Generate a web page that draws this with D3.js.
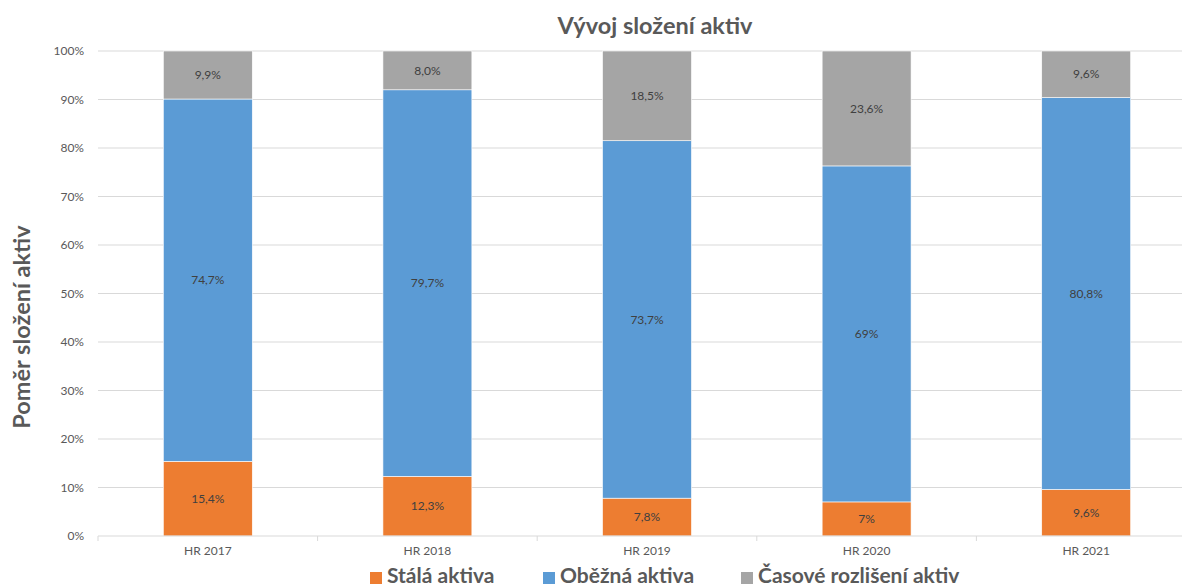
<!DOCTYPE html>
<html>
<head>
<meta charset="utf-8">
<script src="https://cdn.jsdelivr.net/npm/d3@7"></script>
<style>
  html, body { margin: 0; padding: 0; background: #fff; }
  svg { display: block; font-family: Lato, "Noto Sans", sans-serif; }
</style>
</head>
<body>
<svg id="chart" width="1182" height="588"></svg>
<script>
// Asset structure by year (percent of total assets)
const categories = ["HR 2017", "HR 2018", "HR 2019", "HR 2020", "HR 2021"];
const stalaAktiva = [15.4, 12.3, 7.8, 7, 9.6];
const obeznaAktiva = [74.7, 79.7, 73.7, 69, 80.8];
const casoveRozliseni = [9.9, 8.0, 18.5, 23.6, 9.6];
// decimals shown in each data label
const stalaDigits = [1, 1, 1, 0, 1];
const obeznaDigits = [1, 1, 1, 0, 1];
const casoveDigits = [1, 1, 1, 1, 1];
const yTicks = [0, 10, 20, 30, 40, 50, 60, 70, 80, 90, 100];

const seriesDefs = [
  { name: "Stálá aktiva", values: stalaAktiva, digits: stalaDigits, color: "#ED7D31" },
  { name: "Oběžná aktiva", values: obeznaAktiva, digits: obeznaDigits, color: "#5B9BD5" },
  { name: "Časové rozlišení aktiv", values: casoveRozliseni, digits: casoveDigits, color: "#A5A5A5" }
];

const svg = d3.select("#chart");
const plotLeft = 98, plotRight = 1196, plotTop = 51, plotBottom = 536;

const x = d3.scaleBand().domain(categories).range([plotLeft, plotRight]).paddingInner(0.595).paddingOuter(0.2975);
const y = d3.scaleLinear().domain([0, 100]).range([plotBottom, plotTop]);

// gridlines
svg.append("g").selectAll("line").data(yTicks.filter(t => t > 0)).join("line")
  .attr("x1", plotLeft).attr("x2", plotRight)
  .attr("y1", d => y(d)).attr("y2", d => y(d))
  .attr("stroke", "#d9d9d9").attr("stroke-width", 1);

// y tick labels
svg.append("g").selectAll("text").data(yTicks).join("text")
  .attr("x", 84).attr("y", d => y(d)).attr("dy", "0.35em")
  .attr("text-anchor", "end").attr("font-size", 12).attr("fill", "#595959")
  .text(d => d + "%");

// stacked 100% data
const rows = categories.map((c, i) => {
  const total = seriesDefs.reduce((s, sd) => s + sd.values[i], 0);
  let acc = 0;
  return seriesDefs.map(sd => {
    const v = sd.values[i];
    const y0 = acc / total * 100;
    acc += v;
    const y1 = acc / total * 100;
    return { cat: c, v, y0, y1, color: sd.color,
      label: v.toFixed(sd.digits[i]).replace(".", ",") + "%" };
  });
}).flat();

const bars = svg.append("g");
bars.selectAll("rect").data(rows).join("rect")
  .attr("x", d => x(d.cat))
  .attr("width", x.bandwidth())
  .attr("y", d => y(d.y1))
  .attr("height", d => y(d.y0) - y(d.y1))
  .attr("fill", d => d.color)
  .attr("stroke", "#ffffff").attr("stroke-width", 0.6);

bars.selectAll("text").data(rows).join("text")
  .attr("x", d => x(d.cat) + x.bandwidth() / 2)
  .attr("y", d => y((d.y0 + d.y1) / 2)).attr("dy", "0.35em")
  .attr("text-anchor", "middle").attr("font-size", 12).attr("fill", "#404040")
  .text(d => d.label);

// x axis line and ticks
const xAxis = svg.append("g");
xAxis.append("line").attr("x1", plotLeft).attr("x2", plotRight).attr("y1", plotBottom).attr("y2", plotBottom)
  .attr("stroke", "#d9d9d9");
const bounds = categories.map(c => x(c) - x.step() * x.paddingInner() / 2).concat([plotRight]);
xAxis.selectAll("line.tick").data(bounds).join("line").attr("class", "tick")
  .attr("x1", d => d).attr("x2", d => d).attr("y1", plotBottom).attr("y2", plotBottom + 5)
  .attr("stroke", "#d9d9d9");
xAxis.selectAll("text").data(categories).join("text")
  .attr("x", d => x(d) + x.bandwidth() / 2).attr("y", 555)
  .attr("text-anchor", "middle").attr("font-size", 12).attr("fill", "#595959")
  .text(d => d);

// title
svg.append("text").attr("x", 655).attr("y", 34).attr("text-anchor", "middle")
  .attr("font-size", 23.5).attr("font-weight", "bold").attr("fill", "#595959")
  .text("Vývoj složení aktiv");

// y axis title
svg.append("text").attr("transform", "translate(30,327) rotate(-90)")
  .attr("text-anchor", "middle").attr("font-size", 23.5).attr("font-weight", "bold").attr("fill", "#595959")
  .text("Poměr složení aktiv");

// legend along the bottom edge
const legendX = [370, 543, 741];
const legend = svg.append("g").selectAll("g").data(seriesDefs).join("g")
  .attr("transform", (d, i) => `translate(${legendX[i]},583)`);
legend.append("rect").attr("x", 0).attr("y", -11).attr("width", 12).attr("height", 12).attr("fill", d => d.color);
legend.append("text").attr("x", 17).attr("y", 0)
  .attr("font-size", 21).attr("font-weight", "bold").attr("fill", "#595959")
  .text(d => d.name);
</script>
</body>
</html>
